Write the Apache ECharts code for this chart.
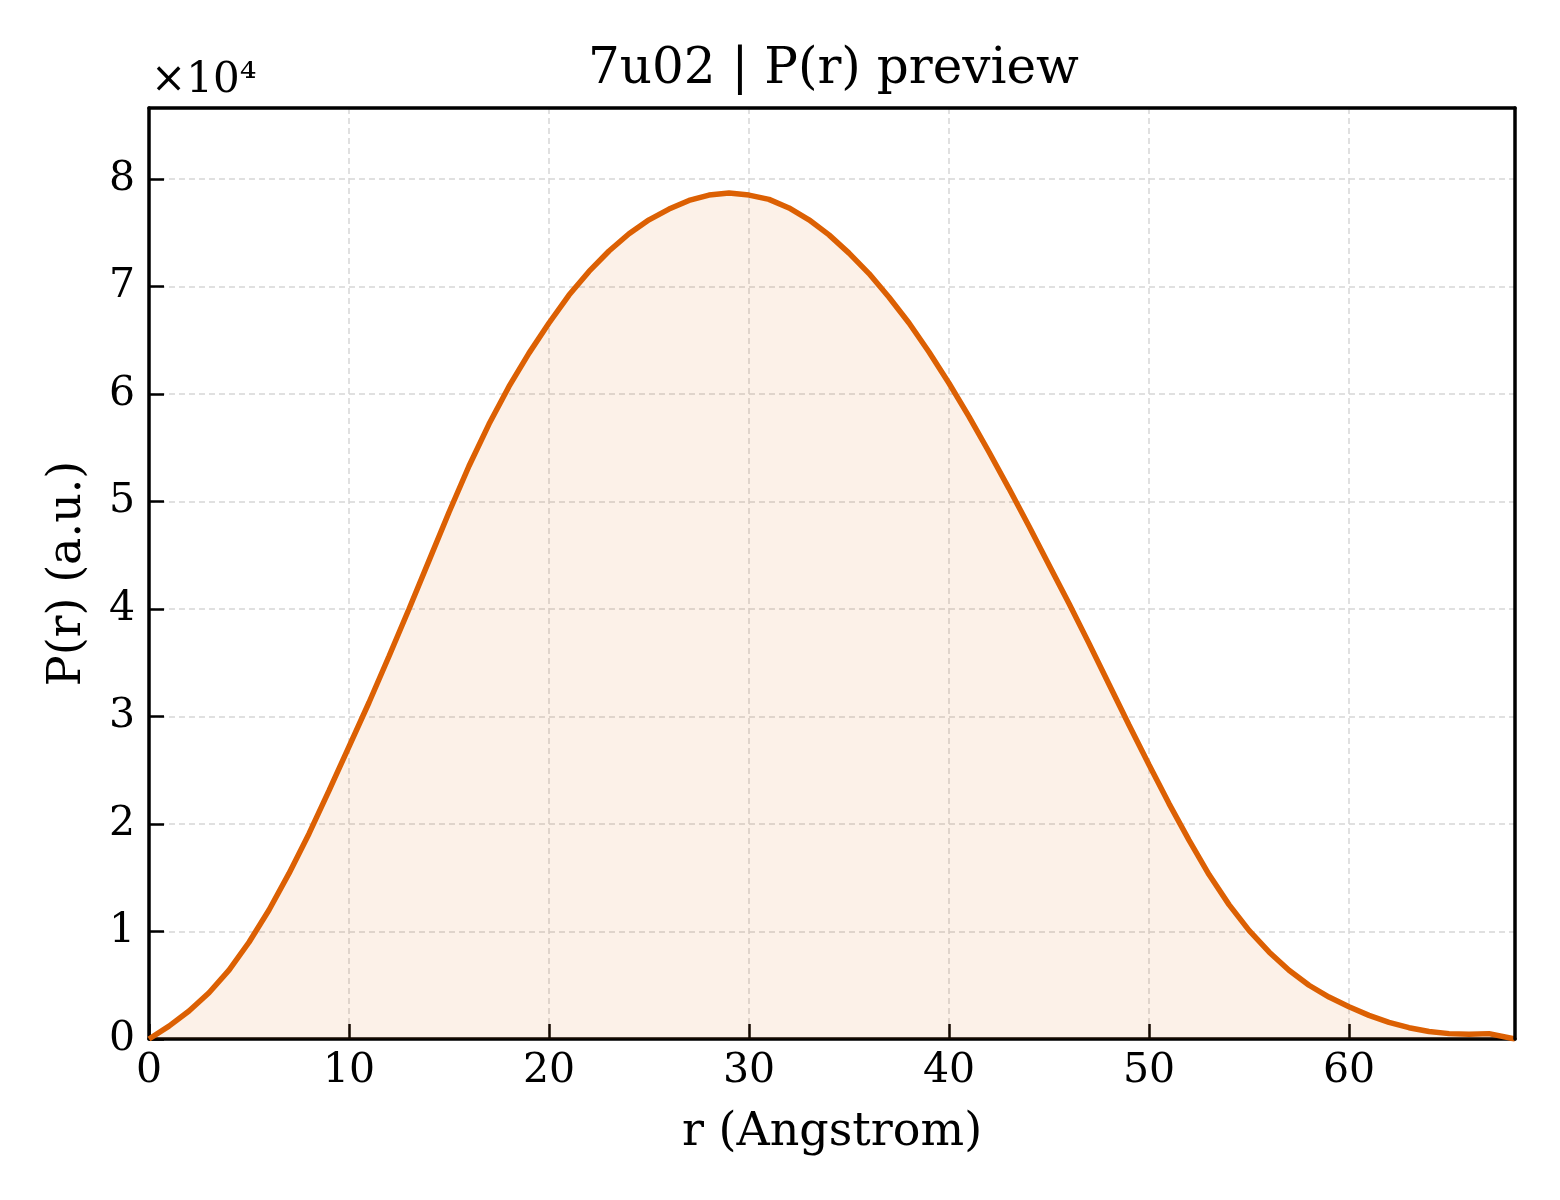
<!DOCTYPE html>
<html>
<head>
<meta charset="utf-8">
<script src="https://cdn.jsdelivr.net/npm/echarts@6/dist/echarts.min.js"></script>
<style>
html,body{margin:0;padding:0;background:#fff;}
#chart{width:1560px;height:1200px;}
</style>
</head>
<body>
<div id="chart"></div>
<script>
// r in Angstrom
const rValues = [0,1,2,3,4,5,6,7,8,9,10,11,12,13,14,15,16,17,18,19,20,21,22,23,24,25,26,27,28,29,30,31,32,33,34,35,36,37,38,39,40,41,42,43,44,45,46,47,48,49,50,51,52,53,54,55,56,57,58,59,60,61,62,63,64,65,66,67,68.3];
// P(r) in a.u.
const pValues = [0,1200,2600,4300,6400,9000,12000,15400,19100,23100,27200,31300,35600,40000,44500,49000,53300,57200,60700,63800,66600,69200,71400,73300,74900,76200,77200,78000,78500,78700,78500,78100,77300,76200,74800,73100,71200,69000,66600,63900,61000,57900,54600,51200,47700,44100,40500,36800,33000,29200,25500,21900,18500,15300,12500,10100,8100,6400,5000,3900,3000,2200,1550,1050,700,500,450,500,0];
const xTicks = [0,10,20,30,40,50,60];
const yTicks = [0,1,2,3,4,5,6,7,8];
const titleText = '7u02 | P(r) preview';
const xName = 'r (Angstrom)';
const yName = 'P(r) (a.u.)';
const scaleText = '×10⁴';

const font = "'DejaVu Serif', 'Liberation Serif', serif";
const chart = echarts.init(document.getElementById('chart'));
const tickStyle = {show: true, inside: true, length: 15, lineStyle: {color: '#000', width: 2.5}};
const gridLine = {show: true, lineStyle: {color: '#d6d6d6', width: 1.5, type: [6, 4]}};
const spine = {show: true, onZero: false, lineStyle: {color: '#000', width: 3.5}};
chart.setOption({
  backgroundColor: '#ffffff',
  animation: false,
  title: [
    {text: titleText, left: 588, top: 45, padding: 0,
     textStyle: {fontFamily: font, fontSize: 50, fontWeight: 'normal', color: '#000'}},
    {text: scaleText, left: 151, top: 60, padding: 0,
     textStyle: {fontFamily: font, fontSize: 42, fontWeight: 'normal', color: '#000'}}
  ],
  grid: {left: 149, right: 45, top: 108, bottom: 161, show: false},
  xAxis: [{
    type: 'value', min: 0, max: 68.3, interval: 10,
    name: xName, nameLocation: 'middle', nameGap: 71,
    nameTextStyle: {fontFamily: font, fontSize: 46, color: '#000'},
    axisLine: spine,
    axisTick: tickStyle,
    axisLabel: {fontFamily: font, fontSize: 41, color: '#000', margin: 12, showMaxLabel: false,
      formatter: v => xTicks.includes(v) ? String(v) : ''},
    splitLine: gridLine
  }, {
    type: 'value', position: 'top', min: 0, max: 68.3, interval: 10, z: 10,
    axisLine: spine,
    axisTick: {show: false}, axisLabel: {show: false}, splitLine: {show: false}
  }],
  yAxis: [{
    type: 'value', min: 0, max: 86600, interval: 10000,
    name: yName, nameLocation: 'middle', nameGap: 58, nameRotate: 90,
    nameTextStyle: {fontFamily: font, fontSize: 46, color: '#000'},
    axisLine: spine,
    axisTick: tickStyle,
    axisLabel: {fontFamily: font, fontSize: 41, color: '#000', margin: 14, showMaxLabel: false,
      formatter: v => { const t = v / 10000; return yTicks.includes(t) ? String(t) : ''; }},
    splitLine: gridLine
  }, {
    type: 'value', position: 'right', min: 0, max: 86600, interval: 10000, z: 10,
    axisLine: spine,
    axisTick: {show: false}, axisLabel: {show: false}, splitLine: {show: false}
  }],
  series: [{
    type: 'line',
    data: rValues.map((r, i) => [r, pValues[i]]),
    showSymbol: false,
    smooth: false,
    lineStyle: {color: '#dc6003', width: 5.5},
    areaStyle: {color: 'rgba(217,95,2,0.13)', origin: 'start'},
    z: 3
  }]
});
</script>
</body>
</html>
